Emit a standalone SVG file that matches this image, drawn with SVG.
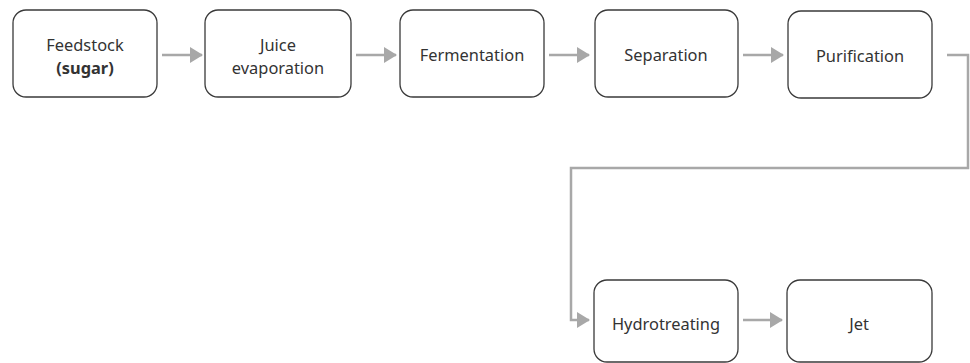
<svg xmlns="http://www.w3.org/2000/svg" width="970" height="363" viewBox="0 0 970 363">
<defs>
<style>
.box{fill:#fff;stroke:#3a3a3a;stroke-width:1.3}
.t{font-family:"Noto Sans","Open Sans",sans-serif;font-size:16.4px;fill:#333;text-anchor:middle}
.b{font-weight:bold}
.c{fill:none;stroke:#a8a8a8;stroke-width:2.5}
</style>
<marker id="ah" viewBox="0 0 13 16" refX="12" refY="8" markerWidth="13" markerHeight="16" markerUnits="userSpaceOnUse" orient="auto">
<path d="M0,0 L13,8 L0,16 Z" fill="#a8a8a8"/>
</marker>
</defs>
<rect width="970" height="363" fill="#fff"/>
<g id="connectors">
<path class="c" d="M162,55 H202" marker-end="url(#ah)"/>
<path class="c" d="M356,55 H396" marker-end="url(#ah)"/>
<path class="c" d="M549,55 H589" marker-end="url(#ah)"/>
<path class="c" d="M743,55 H783" marker-end="url(#ah)"/>
<path class="c" d="M947,55 H968 V168 H571 V320 H589" marker-end="url(#ah)"/>
<path class="c" d="M743,320 H782" marker-end="url(#ah)"/>
</g>
<g id="feedstock">
<rect class="box" x="13" y="10" width="144" height="87" rx="13"/>
<text class="t" x="85" y="51">Feedstock</text>
<text class="t b" x="85" y="74">(sugar)</text>
</g>
<g id="juice">
<rect class="box" x="205" y="10" width="146" height="87" rx="13"/>
<text class="t" x="278" y="51">Juice</text>
<text class="t" x="278" y="74">evaporation</text>
</g>
<g id="fermentation">
<rect class="box" x="400" y="10" width="144" height="87" rx="13"/>
<text class="t" x="472" y="61">Fermentation</text>
</g>
<g id="separation">
<rect class="box" x="595" y="10" width="143" height="87" rx="13"/>
<text class="t" x="666" y="61">Separation</text>
</g>
<g id="purification">
<rect class="box" x="788" y="11" width="144" height="87" rx="13"/>
<text class="t" x="860" y="62">Purification</text>
</g>
<g id="hydrotreating">
<rect class="box" x="594" y="280" width="144" height="82" rx="13"/>
<text class="t" x="666" y="330">Hydrotreating</text>
</g>
<g id="jet">
<rect class="box" x="787" y="280" width="145" height="82" rx="13"/>
<text class="t" x="859" y="330">Jet</text>
</g>
</svg>
